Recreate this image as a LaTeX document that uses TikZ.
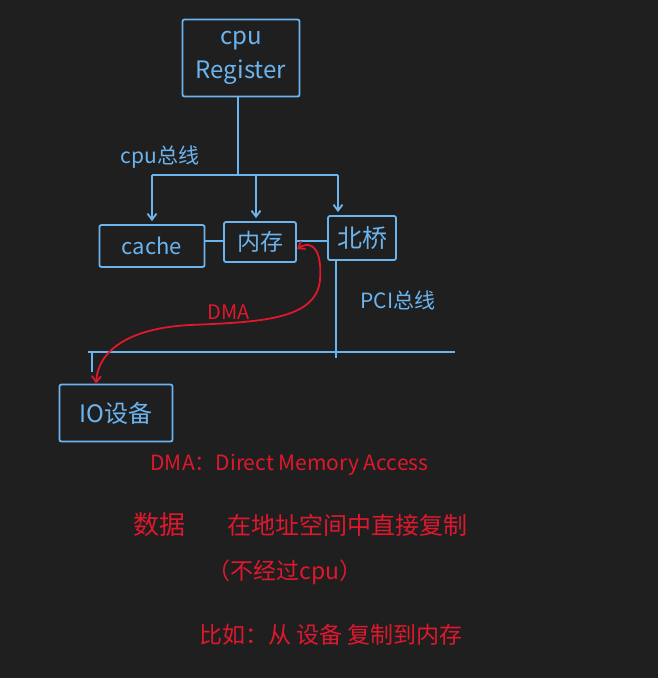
\documentclass[tikz,border=0pt]{standalone}
\usepackage{fontspec}
\setmainfont{Noto Sans CJK SC}
\usetikzlibrary{arrows.meta}
\definecolor{bg}{HTML}{1F1F1F}
\definecolor{pen}{HTML}{6CB4EE}
\definecolor{ink}{HTML}{E0182D}
\tikzset{
  box/.style={draw=pen, line width=1.8pt, text=pen, inner sep=0pt, rounded corners=2pt},
  wire/.style={draw=pen, line width=1.8pt},
  feed/.style={wire, -{Straight Barb[length=6pt,width=9pt]}, shorten >=3pt},
  lbl/.style={text=pen, font=\fontsize{21}{24}\selectfont},
  note/.style={text=ink, font=\fontsize{23}{26}\selectfont, anchor=west},
  dma/.style={draw=ink, line width=1.8pt, {Straight Barb[length=6pt,width=9pt]}-{Straight Barb[length=6pt,width=9pt]}}
}
\begin{document}
\begin{tikzpicture}[x=1pt,y=-1pt]
\fill[bg] (0,0) rectangle (658,678);
\useasboundingbox (0,0) rectangle (658,678);

% boxes
\node[box, minimum width=117pt, minimum height=77pt, align=center, font=\fontsize{24}{34}\selectfont] (cpu) at (241,58) {cpu\\Register};
\node[box, minimum width=105pt, minimum height=42pt, font=\fontsize{22}{24}\selectfont] (cache) at (152,246) {cache};
\node[box, minimum width=72pt, minimum height=40pt, font=\fontsize{23}{24}\selectfont] (mem) at (260,242) {内存};
\node[box, minimum width=68pt, minimum height=44pt, font=\fontsize{25}{26}\selectfont] (nb) at (362,238) {北桥};
\node[box, minimum width=113pt, minimum height=57pt, font=\fontsize{24}{26}\selectfont] (io) at (116,413) {IO设备};

% cpu bus
\coordinate (busL) at (152,175);
\coordinate (busM) at (256,175);
\coordinate (busR) at (338,175);
\draw[wire] (cpu.south -| 238,0) -- (238,175);
\draw[wire] (busL) -- (busR);
\draw[feed] (busL) -- (cache.north -| busL);
\draw[feed] (busM) -- (mem.north -| busM);
\draw[feed] (busR) -- (nb.north -| busR);
\node[lbl] (cpubus) at (160,157) {cpu总线};

% links between boxes
\draw[wire] (cache.east |- 0,241) -- (mem.west |- 0,241);
\draw[wire] (mem.east |- 0,241) -- (nb.west |- 0,241);

% PCI bus
\coordinate (pciL) at (88,352);
\coordinate (pciR) at (455,352);
\coordinate (pciTap) at (92,352);
\coordinate (ioTap) at (92,372);
\draw[wire] (nb.south -| 336,0) -- (336,358);
\draw[wire] (pciL) -- (pciR);
\draw[wire] (pciTap) -- (ioTap);
\node[lbl] (pcibus) at (398,300) {PCI总线};

% DMA arrow
\draw[dma] (mem.east |- 0,249)
  .. controls (315,238) and (322,255) .. (320,280)
  .. controls (316,320) and (260,322) .. (190,325)
  .. controls (130,328) and (98,350) .. (io.north -| 96,0);
\node[text=ink, font=\fontsize{20}{22}\selectfont] (dmalbl) at (229,312) {DMA};

% notes
\node[note, font=\fontsize{21}{24}\selectfont] (n1) at (147,465) {DMA：Direct Memory Access};
\node[note, font=\fontsize{26}{28}\selectfont] (n2a) at (130,525) {数据};
\node[note, font=\fontsize{24}{28}\selectfont] (n2b) at (224,525) {在地址空间中直接复制};
\node[note] (n3) at (204,572) {（不经过cpu）};
\node[note] (n4) at (196,635) {比如：从 设备 复制到内存};
\end{tikzpicture}
\end{document}
